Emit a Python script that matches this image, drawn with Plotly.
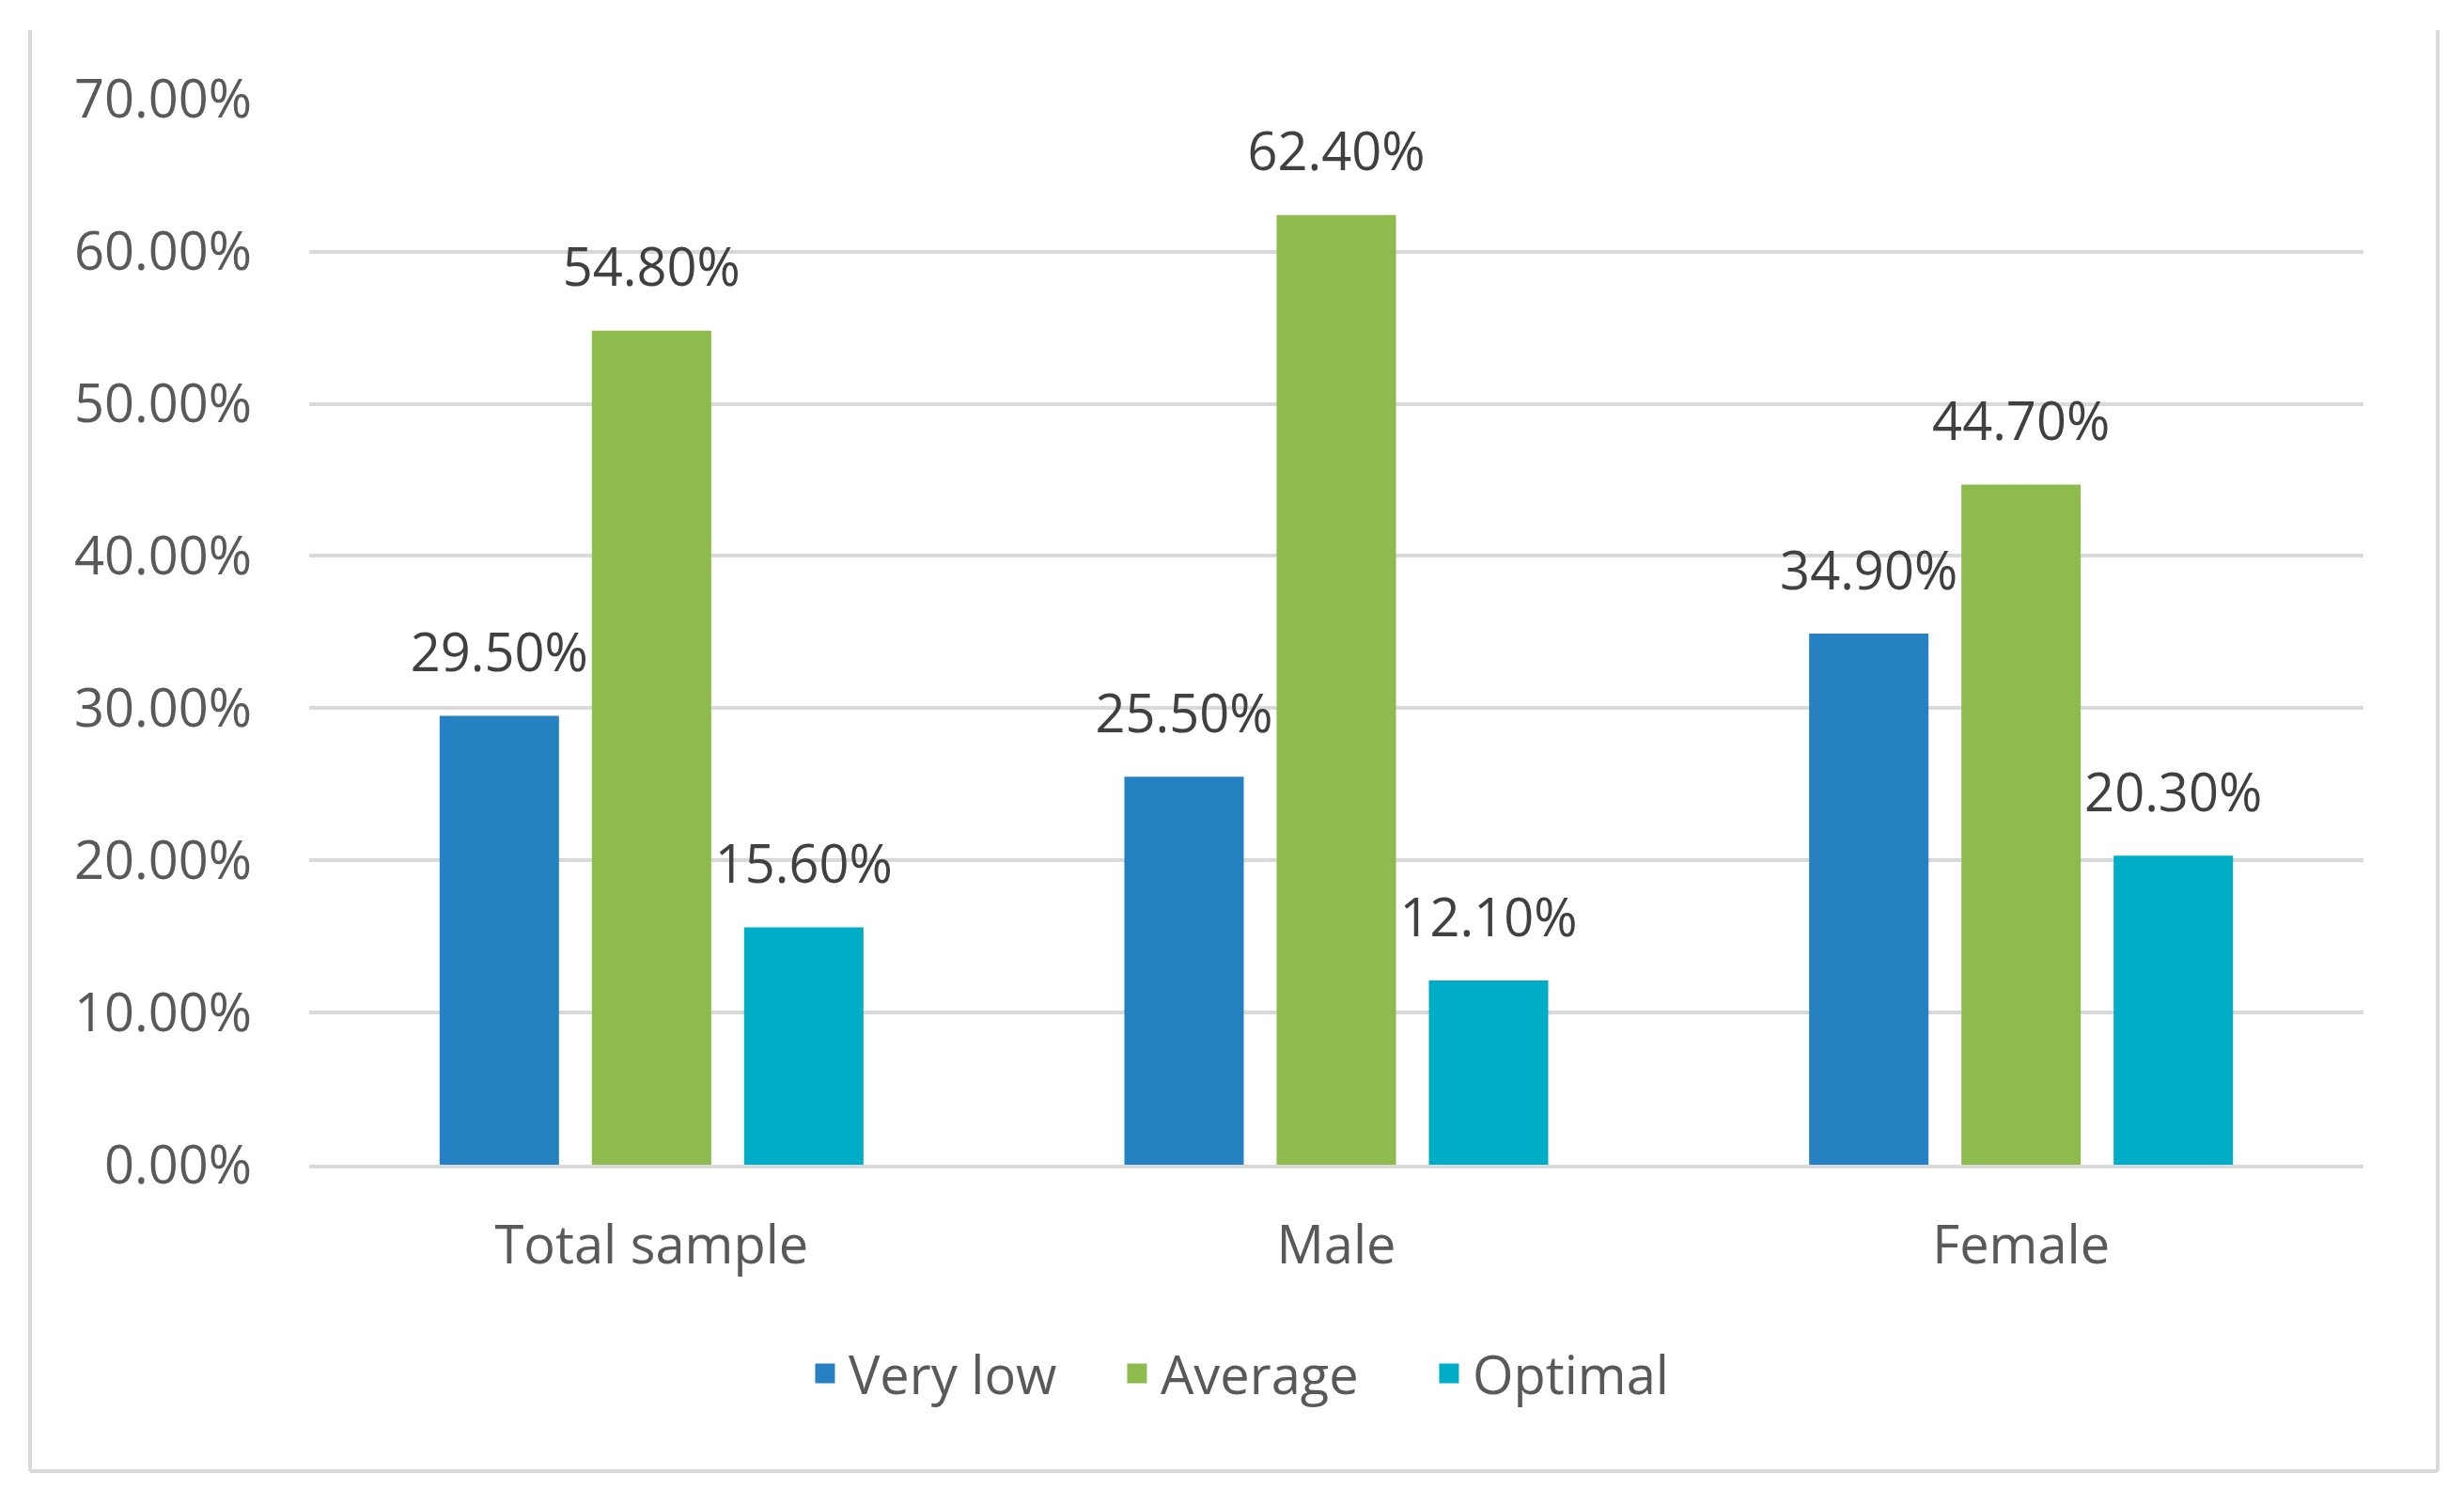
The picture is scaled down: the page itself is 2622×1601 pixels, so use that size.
import plotly.graph_objects as go

categories = ["Total sample", "Male", "Female"]
series_names = ["Very low", "Average", "Optimal"]
very_low = [0.295, 0.255, 0.349]
average = [0.548, 0.624, 0.447]
optimal = [0.156, 0.121, 0.203]
y_ticks = [0, 0.1, 0.2, 0.3, 0.4, 0.5, 0.6, 0.7]

colors = ["#2581C1", "#8DBB4E", "#00ADC6"]
FONT = "Open Sans"
FS = 56

OFF = 8  # page body margin
W, H = 2622 - 2 * OFF, 1601 - 2 * OFF
L, R, T, B = 329 - OFF, 2515 - OFF, 105 - OFF, 1239 - OFF

fig = go.Figure()
for i, (name, vals) in enumerate(zip(series_names, [very_low, average, optimal])):
    fig.add_trace(go.Bar(
        x=categories, y=vals, name=name, marker=dict(color=colors[i], line=dict(width=0)),
        offsetgroup=str(i), showlegend=False,
    ))
for i, vals in enumerate([very_low, average, optimal]):
    fig.add_trace(go.Scatter(
        x=categories, y=vals, mode="markers+text", offsetgroup=str(i),
        marker=dict(size=52, opacity=0, color=colors[i]),
        text=[f"{v*100:.2f}%" for v in vals], textposition="top center",
        textfont=dict(family=FONT, size=FS, color="#404040"),
        showlegend=False, hoverinfo="skip",
    ))
# legend entries
for i, name in enumerate(series_names):
    fig.add_trace(go.Scatter(
        x=[None], y=[None], mode="markers", name=name,
        marker=dict(symbol="square", size=33, color=colors[i],
                    line=dict(color=colors[i], width=8)),
    ))

pw = R - L
ph = B - T
def px_x(x):
    return (x - OFF - L) / pw
def px_y(y):
    return (B - (y - OFF)) / ph

fig.update_layout(
    width=W, height=H,
    margin=dict(l=L, r=W - R, t=T, b=H - B),
    paper_bgcolor="white", plot_bgcolor="white",
    barmode="group", bargap=0.333, bargroupgap=0.216,
    scattermode="group", scattergap=0.333,
    font=dict(family=FONT, size=FS, color="#595959"),
    legend=dict(orientation="h", x=0.4675, xanchor="center", y=px_y(1461), yanchor="middle",
                font=dict(family=FONT, size=FS, color="#595959"), itemwidth=40,
                entrywidth=277, entrywidthmode="pixels",
                itemsizing="trace", traceorder="normal"),
    xaxis=dict(showline=True, linecolor="#D9D9D9", linewidth=4, ticks="",
               ticklabelstandoff=34, tickfont=dict(family=FONT, size=FS, color="#595959")),
    yaxis=dict(range=[0, 0.7005], tickvals=y_ticks, tickformat=".2%", showgrid=True,
               gridcolor="#D9D9D9", gridwidth=4, zeroline=False, ticks="",
               ticklabelstandoff=60, tickfont=dict(family=FONT, size=FS, color="#595959")),
    shapes=[
        dict(type="line", xref="paper", yref="paper", x0=px_x(32), x1=px_x(32), y0=px_y(32), y1=px_y(1565),
             line=dict(color="#D9D9D9", width=4)),
        dict(type="line", xref="paper", yref="paper", x0=px_x(2594), x1=px_x(2594), y0=px_y(32), y1=px_y(1565),
             line=dict(color="#D9D9D9", width=4)),
        dict(type="line", xref="paper", yref="paper", x0=px_x(32), x1=px_x(2594), y0=px_y(1565), y1=px_y(1565),
             line=dict(color="#D9D9D9", width=4)),
    ],
)
fig.write_html("out.html")
